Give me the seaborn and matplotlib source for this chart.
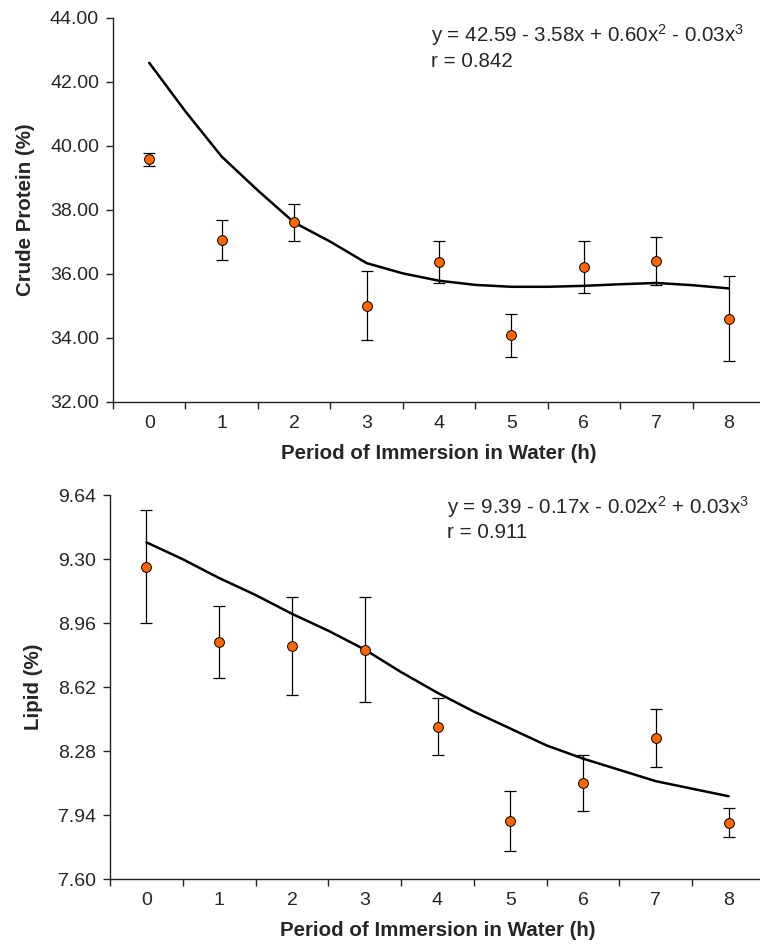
import numpy as np
import pandas as pd
import seaborn as sns
import matplotlib.pyplot as plt
from matplotlib.ticker import FixedLocator, NullFormatter

# Period of immersion (h)
hours = [0, 1, 2, 3, 4, 5, 6, 7, 8]

# Crude protein: means and error bars
protein_mean = [39.58, 37.06, 37.61, 35.01, 36.37, 34.08, 36.22, 36.42, 34.60]
protein_err = [0.20, 0.62, 0.57, 1.08, 0.66, 0.67, 0.82, 0.75, 1.33]

# Lipid: means and error bars
lipid_mean = [9.26, 8.86, 8.84, 8.82, 8.41, 7.91, 8.11, 8.35, 7.90]
lipid_err = [0.30, 0.19, 0.26, 0.28, 0.15, 0.16, 0.15, 0.155, 0.078]

# fitted curves (half-hour steps)
curve_hours = [0, 0.5, 1, 1.5, 2, 2.5, 3, 3.5, 4, 4.5, 5, 5.5, 6, 6.5, 7, 7.5, 8]
protein_fit = [42.60, 41.08, 39.67, 38.61, 37.61, 37.01, 36.34, 36.02, 35.79,
               35.66, 35.60, 35.60, 35.63, 35.68, 35.72, 35.65, 35.55]
lipid_fit = [9.39, 9.30, 9.20, 9.11, 9.01, 8.92, 8.82, 8.70, 8.59,
             8.49, 8.40, 8.31, 8.24, 8.18, 8.12, 8.08, 8.04]

protein_ticks = [32, 34, 36, 38, 40, 42, 44]
lipid_ticks = [7.60, 7.94, 8.28, 8.62, 8.96, 9.30, 9.64]

protein_eq = r"y = 42.59 - 3.58x + 0.60x$^2$ - 0.03x$^3$"
protein_r = "r = 0.842"
lipid_eq = r"y = 9.39 - 0.17x - 0.02x$^2$ + 0.03x$^3$"
lipid_r = "r = 0.911"
xlabel = "Period of Immersion in Water (h)"

sns.set_theme(style="ticks")
plt.rcParams["font.family"] = ["Liberation Sans", "DejaVu Sans"]
plt.rcParams["mathtext.fontset"] = "custom"
plt.rcParams["mathtext.rm"] = "Liberation Sans"
plt.rcParams["mathtext.it"] = "Liberation Sans:italic"

fig = plt.figure(figsize=(7.6, 9.46), dpi=100)
ax1 = fig.add_axes([113 / 760, 1 - 402 / 946, 652 / 760, 384 / 946])
ax2 = fig.add_axes([110 / 760, 1 - 879 / 946, 655 / 760, 383.7 / 946])

panels = [
    (ax1, protein_mean, protein_err, protein_fit, protein_ticks,
     (32, 44), "Crude Protein (%)", protein_eq, protein_r, (0.487, 0.938, 0.873)),
    (ax2, lipid_mean, lipid_err, lipid_fit, lipid_ticks,
     (7.60, 9.64), "Lipid (%)", lipid_eq, lipid_r, (0.514, 0.953, 0.888)),
]

for ax, mean, err, fit, yticks, ylim, ylabel, eq, rtxt, (tx, ty1, ty2) in panels:
    pts = pd.DataFrame({"hours": hours, "value": mean, "err": err})
    fitdf = pd.DataFrame({"hours": curve_hours, "value": fit})

    sns.lineplot(data=fitdf, x="hours", y="value", ax=ax, color="black",
                 lw=1.8, zorder=2)
    ax.errorbar(pts["hours"], pts["value"], yerr=pts["err"], fmt="none",
                ecolor="black", elinewidth=0.9, capsize=4, capthick=0.9,
                zorder=3)
    sns.scatterplot(data=pts, x="hours", y="value", ax=ax, color="#FF6600",
                    edgecolor="black", linewidth=0.7, s=50, zorder=4)

    ax.set_xlim(-0.5, 8.5)
    ax.set_ylim(*ylim)
    ax.set_yticks(yticks)
    ax.set_yticklabels([f"{v:.2f}" for v in yticks])

    # category boundaries as ticks, labels centred between them
    ax.xaxis.set_major_locator(FixedLocator(np.arange(-0.5, 9.0, 1.0)))
    ax.xaxis.set_major_formatter(NullFormatter())
    ax.xaxis.set_minor_locator(FixedLocator(hours))
    ax.set_xticklabels([str(h) for h in hours], minor=True)
    ax.tick_params(axis="x", which="major", length=5, width=1, color="#222222")
    ax.tick_params(axis="x", which="minor", length=0, pad=9, labelsize=14)
    ax.tick_params(axis="y", length=5, width=1, pad=5, labelsize=14,
                   color="#222222")

    for side in ["top", "right"]:
        ax.spines[side].set_visible(False)
    for side in ["left", "bottom"]:
        ax.spines[side].set_color("#222222")
        ax.spines[side].set_linewidth(1.0)

    ax.set_xlabel(xlabel, fontsize=14.8, fontweight="bold", labelpad=9)
    ax.set_ylabel(ylabel, fontsize=14.8, fontweight="bold", labelpad=11)

    ax.text(tx, ty1, eq, transform=ax.transAxes, fontsize=14.8, va="baseline",
            ha="left")
    ax.text(tx, ty2, rtxt, transform=ax.transAxes, fontsize=14.8, va="baseline",
            ha="left")

fig.savefig("out.png", dpi=100)
